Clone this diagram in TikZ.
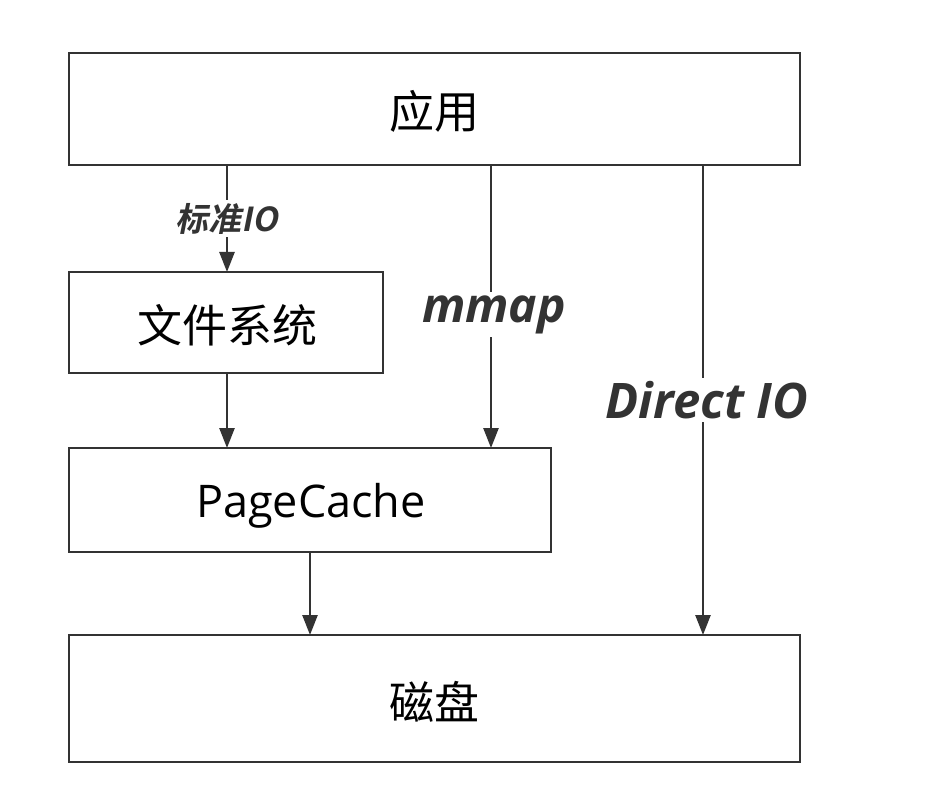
\documentclass[tikz,border=0pt]{standalone}
\usepackage{fontspec}
\setmainfont{Open Sans}
\newfontfamily\cjk{Noto Sans CJK SC}
\newfontfamily\cjkbi{Noto Sans CJK SC Bold}[FakeSlant=0.2]
\usetikzlibrary{arrows.meta}
\definecolor{ln}{HTML}{333333}
\begin{document}
\begin{tikzpicture}[x=1pt,y=-1pt,
  box/.style={draw=ln,line width=2.6pt,fill=white,text=black,inner sep=0pt},
  conn/.style={draw=ln,line width=2.6pt,-{Triangle[length=20pt,width=15pt]}},
  lbl/.style={fill=white,text=ln,inner sep=3pt}]
\useasboundingbox (0,0) rectangle (932,805);
\path[box] (69,53) rectangle (800,165);
\node (app) at (434.5,111) {\fontsize{45}{48}\selectfont\cjk 应用};
\coordinate (appS1) at (227,165);
\coordinate (appS2) at (491,165);
\coordinate (appS3) at (703,165);
\path[box] (69,272) rectangle (383,373);
\node (fs) at (227,325) {\fontsize{45}{48}\selectfont\cjk 文件系统};
\coordinate (fsN) at (227,272);
\coordinate (fsS) at (227,373);
\path[box] (69,448) rectangle (551,552);
\node (pc) at (311,506) {\fontsize{45}{48}\selectfont PageCache};
\coordinate (pcN1) at (227,448);
\coordinate (pcN2) at (491,448);
\coordinate (pcS) at (310,552);
\path[box] (69,635) rectangle (800,762);
\node (disk) at (434.5,702) {\fontsize{45}{48}\selectfont\cjk 磁盘};
\coordinate (dkN1) at (310,635);
\coordinate (dkN2) at (703,635);
\draw[conn] (appS1) -- node[lbl,pos=0.5]{\fontsize{33}{35}\selectfont\cjkbi 标准IO} (fsN);
\draw[conn] (appS2) -- node[lbl,pos=0.5,xshift=3pt,yshift=-8pt]{\fontsize{48}{50}\selectfont\bfseries\itshape mmap} (pcN2);
\draw[conn] (appS3) -- node[lbl,pos=0.50,xshift=4pt]{\fontsize{49}{51}\selectfont\bfseries\itshape Direct IO} (dkN2);
\draw[conn] (fsS) -- (pcN1);
\draw[conn] (pcS) -- (dkN1);
\end{tikzpicture}
\end{document}
